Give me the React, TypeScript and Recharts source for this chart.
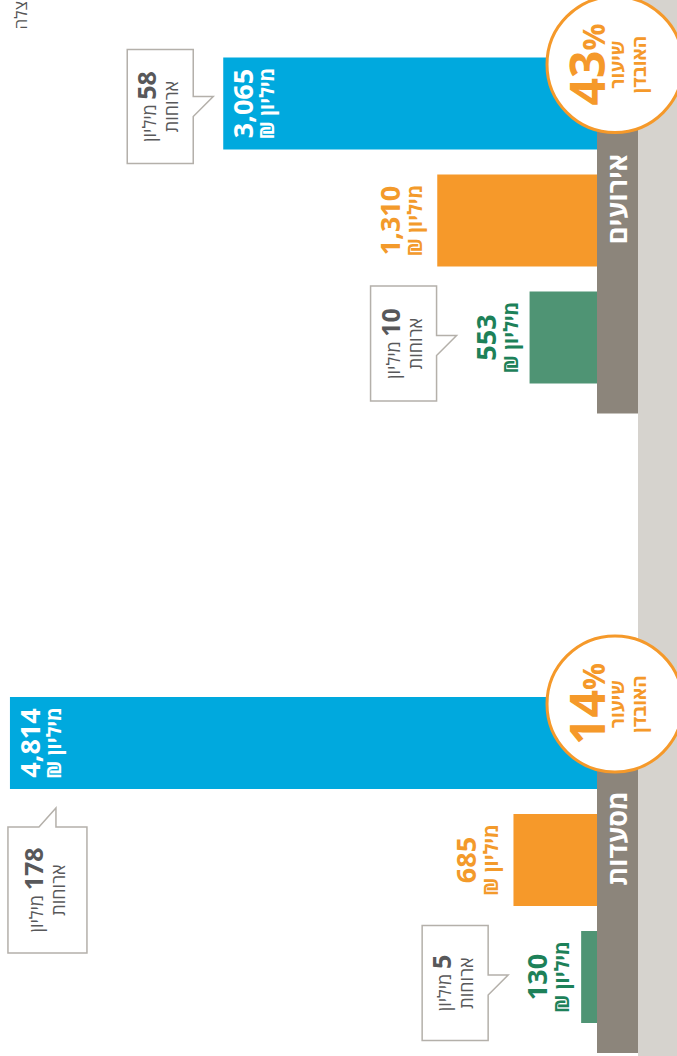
import { Bar, BarChart, Cell, LabelList, XAxis, YAxis } from "recharts";

// values in מיליון ₪ / מיליון ארוחות, group order as drawn (left to right before rotation)
const GROUPS = ["מסעדות", "אירועים"];
const SERIES = ["rescue", "loss", "total"];
const TOTAL_VALUE = [4814, 3065];
const LOSS_VALUE = [685, 1310];
const RESCUE_VALUE = [130, 553];
const TOTAL_MEALS = [178, 58];
const RESCUE_MEALS = [5, 10];
const LOSS_RATE = [14, 43];
const Y_MAX = 4830;

const UNIT = "מיליון ₪";
const MEALS_UNIT = " מיליון";
const MEALS_WORD = "ארוחות";
const RATE_LINE1 = "שיעור";
const RATE_LINE2 = "האובדן";
const TITLE_TAIL = "צלה";

const W = 1056;
const H = 677;
const BAND = 117;
const FONT = "'Open Sans', 'Liberation Sans', 'DejaVu Sans', sans-serif";

const COLORS: Record<string, string> = { total: "#00a9de", loss: "#f6992a", rescue: "#4f9474" };
const LABEL_COLORS: Record<string, string> = { total: "#ffffff", loss: "#f39a2b", rescue: "#1d8159" };
const ORANGE = "#f5992a";
const BOX_STROKE = "#b4b0aa";
const BOX_TEXT = "#58585a";
const BAND_FILL = "#8c857b";
const STRIP_FILL = "#d6d3ce";

const fmt = (v: number) => v.toLocaleString("en-US");

function rowsFor(g: number) {
  return SERIES.map((key) => ({
    key,
    value: key === "total" ? TOTAL_VALUE[g] : key === "loss" ? LOSS_VALUE[g] : RESCUE_VALUE[g],
    meals: key === "total" ? TOTAL_MEALS[g] : key === "rescue" ? RESCUE_MEALS[g] : null,
  }));
}

function Callout({ left, top, w, h, tipX, tipY, side, meals }: any) {
  const r = left + w;
  const b = top + h;
  const d =
    side === "bottom"
      ? `M${left},${top} H${r} V${b} H${tipX} L${tipX},${tipY} L${tipX - 20},${b} H${left} Z`
      : `M${left},${top} H${r} V${tipY - 17} L${tipX},${tipY} L${r},${tipY} V${b} H${left} Z`;
  const cx = left + w / 2;
  const mid = top + h / 2;
  return (
    <g>
      <path d={d} fill="#fff" stroke={BOX_STROKE} strokeWidth={1.5} />
      <text x={cx} y={mid - 4} textAnchor="middle" direction="rtl" fill={BOX_TEXT} fontFamily={FONT}>
        <tspan fontSize={25} fontWeight={700}>{meals}</tspan>
        <tspan fontSize={18}>{MEALS_UNIT}</tspan>
      </text>
      <text x={cx} y={mid + 18} textAnchor="middle" direction="rtl" fill={BOX_TEXT} fontSize={18} fontFamily={FONT}>
        {MEALS_WORD}
      </text>
    </g>
  );
}

const makeLabel = (g: number) => (props: any) => {
  const rows = rowsFor(g);
  const vb = props.viewBox ?? props;
  const { x, y, width, height } = vb;
  const i = props.index ?? 0;
  const row = rows[i];
  const key = row.key;
  const cx = x + width / 2;
  const color = LABEL_COLORS[key];
  const numY = key === "total" ? y + 30 : key === "loss" ? y - 37 : y - 34;
  const unitY = key === "total" ? y + 51 : key === "loss" ? y - 15 : y - 12;

  let callout = null;
  if (key === "rescue") {
    callout = <Callout left={cx - 6 - 57.5} top={y - 93 - 66} w={115} h={66} tipX={cx + 2} tipY={y - 73} side="bottom" meals={row.meals} />;
  } else if (key === "total") {
    callout =
      y > 130 ? (
        <Callout left={cx - 3 - 57} top={y - 30 - 66} w={114} h={66} tipX={cx + 7} tipY={y - 10} side="bottom" meals={row.meals} />
      ) : (
        <Callout left={x - 38 - 126} top={y - 2} w={126} h={79} tipX={x - 19} tipY={y + 46} side="right" meals={row.meals} />
      );
  }

  let circle = null;
  if (key === "total") {
    const ccx = x + width - 7;
    const ccy = y + height + 18;
    circle = (
      <g fontFamily={FONT} fill={ORANGE}>
        <circle cx={ccx} cy={ccy} r={68} fill="#fff" stroke={ORANGE} strokeWidth={3} />
        <text x={ccx} y={ccy - 10} textAnchor="middle" fontWeight={700}>
          <tspan fontSize={48}>{LOSS_RATE[g]}</tspan>
          <tspan fontSize={30}>%</tspan>
        </text>
        <text x={ccx} y={ccy + 9} textAnchor="middle" fontSize={19} fontWeight={700}>
          {RATE_LINE1}
        </text>
        <text x={ccx} y={ccy + 31} textAnchor="middle" fontSize={19} fontWeight={700}>
          {RATE_LINE2}
        </text>
      </g>
    );
  }

  return (
    <g>
      {callout}
      <text x={cx} y={numY} textAnchor="middle" fill={color} fontSize={27} fontWeight={700} fontFamily={FONT}>
        {fmt(row.value)}
      </text>
      <text x={cx} y={unitY} textAnchor="middle" direction="rtl" fill={color} fontSize={20} fontWeight={700} fontFamily={FONT}>
        {UNIT}
      </text>
      {circle}
    </g>
  );
};

const makeTick = (g: number) => (props: any) => {
  const { x, y, index } = props;
  if (index !== 1) return <g />;
  const left = x - 1.5 * BAND - 17;
  const right = x + 1.5 * BAND + 40;
  return (
    <g>
      <rect x={left} y={y} width={right - left} height={41} fill={BAND_FILL} />
      <text x={x + 22} y={y + 30} textAnchor="middle" fill="#fff" fontSize={27} fontWeight={700} fontFamily={FONT}>
        {GROUPS[g]}
      </text>
    </g>
  );
};

function GroupChart({ g, left, width, marginLeft }: { g: number; left: number; width: number; marginLeft: number }) {
  const rows = rowsFor(g);
  return (
    <div style={{ position: "absolute", left, top: 0 }}>
      <BarChart
        width={width}
        height={H}
        data={rows}
        margin={{ top: 8, left: marginLeft, right: width - marginLeft - 3 * BAND, bottom: 40 }}
      >
        <XAxis
          dataKey="key"
          height={40}
          axisLine={false}
          tickLine={false}
          tickSize={0}
          tickMargin={0}
          interval={0}
          tick={makeTick(g)}
        />
        <YAxis hide width={0} domain={[0, Y_MAX]} />
        <Bar dataKey="value" barSize={92} isAnimationActive={false}>
          {rows.map((r) => (
            <Cell key={r.key} fill={COLORS[r.key]} />
          ))}
          <LabelList dataKey="value" content={makeLabel(g)} />
        </Bar>
      </BarChart>
    </div>
  );
}

export default function App() {
  return (
    <div style={{ position: "absolute", left: 0, top: 0, width: H, height: W, overflow: "hidden", background: "#fff", fontFamily: FONT }}>
      <div
        style={{
          position: "absolute",
          left: 0,
          top: 0,
          width: W,
          height: H,
          transformOrigin: "0 0",
          transform: `translateY(${W}px) rotate(-90deg)`,
        }}
      >
        <div style={{ position: "absolute", left: 0, top: 638, width: W, height: H - 638, background: STRIP_FILL }} />
        <div
          style={{
            position: "absolute",
            right: 1,
            top: 10,
            fontSize: 17,
            lineHeight: "22px",
            color: "#555",
            direction: "rtl",
            whiteSpace: "nowrap",
          }}
        >
          {TITLE_TAIL}
        </div>
        <GroupChart g={0} left={0} width={520} marginLeft={20} />
        <GroupChart g={1} left={600} width={456} marginLeft={59.5} />
      </div>
    </div>
  );
}
